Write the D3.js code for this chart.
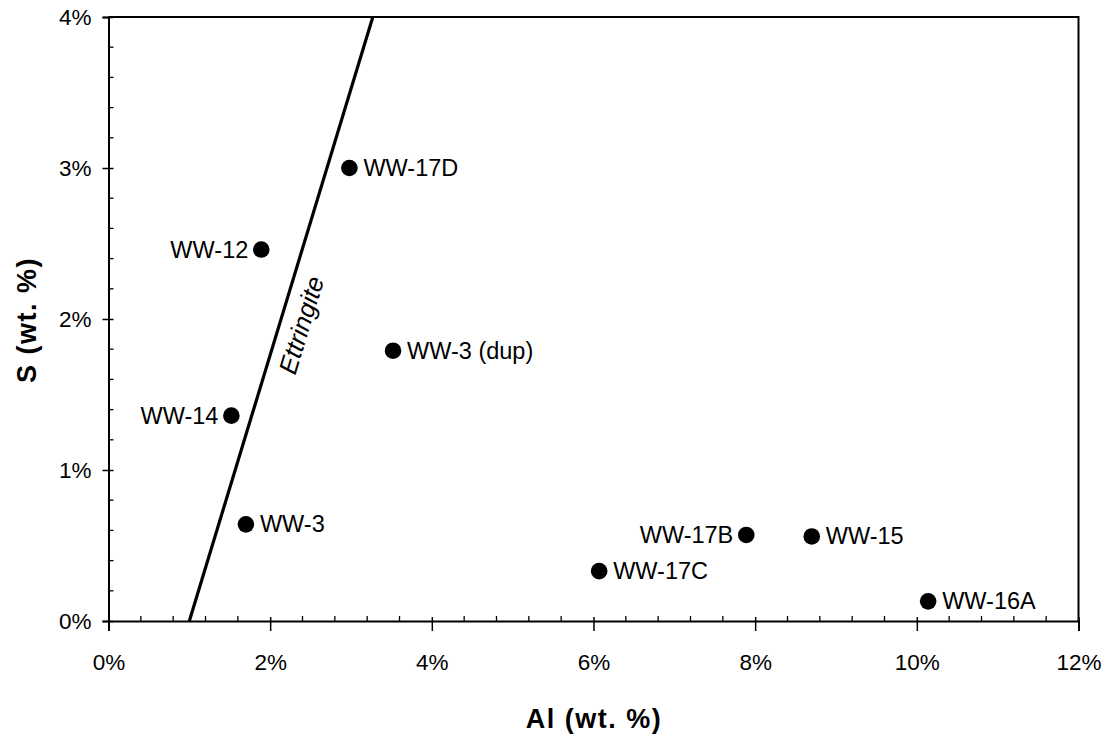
<!DOCTYPE html>
<html>
<head>
<meta charset="utf-8">
<script src="https://cdn.jsdelivr.net/npm/d3@7"></script>
<style>
  html, body { margin: 0; padding: 0; background: #fff; }
  svg { display: block; font-family: "Liberation Sans", Arial, Helvetica, sans-serif; }
</style>
</head>
<body>
<svg id="chart" width="1108" height="738"></svg>
<script>
// Sample names and their Al / S contents (wt. %)
const samples = ["WW-17D", "WW-12", "WW-3 (dup)", "WW-14", "WW-3", "WW-17B", "WW-15", "WW-17C", "WW-16A"];
const alValues = [2.98, 1.89, 3.52, 1.52, 1.70, 7.89, 8.70, 6.07, 10.14];
const sValues  = [3.00, 2.46, 1.79, 1.36, 0.64, 0.57, 0.56, 0.33, 0.13];
// which side of the marker each name sits on
const labelSide = ["right", "left", "right", "left", "right", "left", "right", "right", "right"];

// Ettringite composition line (Al, S)
const ettringiteAl = [1.0, 3.27];
const ettringiteS  = [0.0, 4.0];

const xTicks = [0, 2, 4, 6, 8, 10, 12];
const yTicks = [0, 1, 2, 3, 4];
const xMinorStep = 0.4;
const yMinorStep = 0.2;

const svg = d3.select("#chart");
const x = d3.scaleLinear().domain([0, 12]).range([108.5, 1078.5]);
const y = d3.scaleLinear().domain([0, 4]).range([621, 17]);
const pct = d => d + "%";

// plot frame (top and right)
svg.append("path")
  .attr("d", `M${x(0)},${y(4)} H${x(12)} V${y(0)}`)
  .attr("fill", "none").attr("stroke", "#000").attr("stroke-width", 2);

// minor ticks, pointing into the plot
const xMinor = d3.range(0, 12 + 1e-9, xMinorStep).filter(v => Math.abs(v / 2 - Math.round(v / 2)) > 1e-6);
svg.append("g").selectAll("line").data(xMinor).join("line")
  .attr("x1", d => x(d)).attr("x2", d => x(d))
  .attr("y1", y(0)).attr("y2", y(0) - 5)
  .attr("stroke", "#000").attr("stroke-width", 1.3);
const yMinor = d3.range(0, 4 + 1e-9, yMinorStep).filter(v => Math.abs(v - Math.round(v)) > 1e-6);
svg.append("g").selectAll("line").data(yMinor).join("line")
  .attr("x1", x(0)).attr("x2", x(0) + 5)
  .attr("y1", d => y(d)).attr("y2", d => y(d))
  .attr("stroke", "#000").attr("stroke-width", 1.3);

// x axis
const xAxis = svg.append("g").attr("transform", `translate(0,${y(0)})`)
  .call(d3.axisBottom(x).tickValues(xTicks).tickFormat(pct).tickSize(10).tickPadding(23));
xAxis.select(".domain").attr("stroke-width", 2);
xAxis.selectAll(".tick line").attr("y1", -4).attr("y2", 10).attr("stroke-width", 1.5);
xAxis.selectAll(".tick text").attr("font-size", 22.5).attr("fill", "#000")
  .style("font-family", "Liberation Sans, Arial, sans-serif");

// y axis
const yAxis = svg.append("g").attr("transform", `translate(${x(0)},0)`)
  .call(d3.axisLeft(y).tickValues(yTicks).tickFormat(pct).tickSize(6).tickPadding(11));
yAxis.select(".domain").attr("stroke-width", 2);
yAxis.selectAll(".tick line").attr("x1", -6).attr("x2", 5).attr("stroke-width", 1.5);
yAxis.selectAll(".tick text").attr("font-size", 22.5).attr("fill", "#000")
  .style("font-family", "Liberation Sans, Arial, sans-serif");

// axis titles
svg.append("text")
  .attr("x", 594).attr("y", 728)
  .attr("text-anchor", "middle")
  .attr("font-size", 27).attr("font-weight", "bold").attr("letter-spacing", 1.5)
  .text("Al (wt. %)");
svg.append("text")
  .attr("transform", `translate(36,320) rotate(-90)`)
  .attr("text-anchor", "middle")
  .attr("font-size", 27).attr("font-weight", "bold").attr("letter-spacing", 1.5)
  .text("S (wt. %)");

// ettringite line
const ettPts = ettringiteAl.map((a, i) => [a, ettringiteS[i]]);
svg.append("path")
  .attr("d", d3.line().x(d => x(d[0])).y(d => y(d[1]))(ettPts))
  .attr("fill", "none").attr("stroke", "#000").attr("stroke-width", 3.2);

// label placed along the ettringite line, on its right-hand side
{
  const [p0, p1] = ettPts.map(d => [x(d[0]), y(d[1])]);
  const ang = Math.atan2(p1[1] - p0[1], p1[0] - p0[0]) * 180 / Math.PI;
  const t = 0.5;
  const cx = p0[0] + (p1[0] - p0[0]) * t;
  const cy = p0[1] + (p1[1] - p0[1]) * t;
  svg.append("text")
    .attr("transform", `translate(${cx},${cy}) rotate(${ang}) translate(0,30)`)
    .attr("text-anchor", "middle")
    .attr("font-size", 25.5).attr("font-style", "italic")
    .text("Ettringite");
}

// sample markers and names
const data = samples.map((s, i) => ({ name: s, al: alValues[i], s: sValues[i], side: labelSide[i] }));
const pts = svg.append("g").selectAll("g").data(data).join("g")
  .attr("transform", d => `translate(${x(d.al)},${y(d.s)})`);
pts.append("circle").attr("r", 8.3).attr("fill", "#000");
pts.append("text")
  .attr("x", d => d.side === "right" ? 14 : -13)
  .attr("y", 8)
  .attr("text-anchor", d => d.side === "right" ? "start" : "end")
  .attr("font-size", 23.5)
  .text(d => d.name);
</script>
</body>
</html>
